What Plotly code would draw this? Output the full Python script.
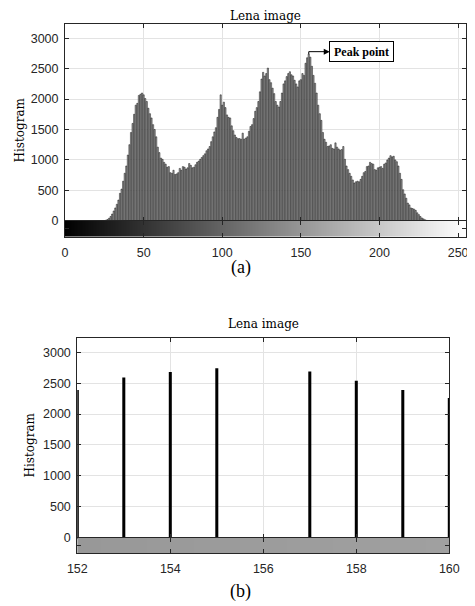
import numpy as np
import plotly.graph_objects as go

# ---------------- data ----------------
gray_levels = list(range(256))

# original histogram (panel a)
hist_counts = (
    [0] * 26 +
    [8, 20, 40, 70, 110, 160, 210, 270, 340, 450,            # 26-35
     520, 650, 780, 900, 1080, 1250, 1450, 1600, 1750, 1900,  # 36-45
     1930, 2060, 2080, 2100, 2070, 2010, 1960, 1850, 1760, 1690,  # 46-55
     1580, 1500, 1380, 1210, 1120, 1030, 1010, 960, 930, 880,     # 56-65
     890, 790, 780, 830, 760, 770, 790, 860, 830, 890,             # 66-75
     880, 850, 870, 940, 910, 870, 880, 920, 960, 980,             # 76-85
     1010, 1040, 1070, 1100, 1150, 1180, 1220, 1300, 1380, 1460,   # 86-95
     1530, 1700, 1830, 2070, 1900, 1950, 1860, 1740, 1700, 1690,   # 96-105
     1560, 1480, 1410, 1370, 1350, 1350, 1340, 1440, 1340, 1360,   # 106-115
     1380, 1470, 1550, 1580, 1680, 1800, 1860, 1960, 2120, 2330,   # 116-125
     2440, 2380, 2420, 2510, 2320, 2270, 2180, 2090, 1960, 1900,   # 126-135
     1870, 1960, 2100, 2250, 2300, 2370, 2420, 2450, 2400, 2380,   # 136-145
     2310, 2250, 2200, 2300, 2320, 2420, 2390, 2590, 2680, 2740,   # 146-155
     2690, 2540, 2390, 2260, 2100, 1900, 1760, 1650, 1450, 1340,   # 156-165
     1290, 1220, 1230, 1250, 1190, 1180, 1280, 1210, 1180, 1160,   # 166-175
     1170, 1220, 1010, 900, 840, 780, 730, 670, 620, 640,          # 176-185
     650, 640, 680, 730, 790, 810, 890, 900, 960, 940,             # 186-195
     930, 840, 830, 870, 880, 890, 860, 930, 950, 1000,            # 196-205
     1030, 1070, 1050, 1060, 1000, 970, 900, 780, 680, 510,        # 206-215
     440, 370, 290, 260, 210, 200, 190, 170, 130, 100,             # 216-225
     70, 45, 30, 15, 5] +                                         # 226-230
    [0] * 25
)

# zoomed histogram around the peak (panel b)
zoom_levels = [152, 153, 154, 155, 156, 157, 158, 159, 160]
zoom_counts = [2390, 2590, 2680, 2740, 0, 2690, 2540, 2390, 2260]

y_ticks = [0, 500, 1000, 1500, 2000, 2500, 3000]
x_ticks_a = [0, 50, 100, 150, 200, 250]
x_ticks_b = [152, 154, 156, 158, 160]
title_text = "Lena image"
ylabel_text = "Histogram"
peak_label = "Peak point"

# ---------------- layout geometry ----------------
# the page body adds an 8px margin, so the figure is drawn 8px smaller
# and all reference pixel positions are shifted by that offset
OFF = 8
W, H = 475 - OFF, 606 - OFF
def px_x(a, b):
    return [(a - OFF) / W, (b - OFF) / W]
def px_y(top, bottom):
    return [(H - (bottom - OFF)) / H, (H - (top - OFF)) / H]
def paper_x(x):
    return (x - OFF) / W
def paper_y(y):
    return 1 - (y - OFF) / H

TICK_FONT = dict(family="Liberation Sans, Arial", size=12.5, color="#262626")
AX_COLOR = "#262626"
GRID = "#e3e3e3"

fig = go.Figure()

# top histogram
fig.add_trace(go.Bar(x=gray_levels, y=hist_counts, xaxis="x", yaxis="y",
                     marker=dict(color="#a2a2a2", line=dict(color="black", width=0.45)),
                     showlegend=False, hoverinfo="x+y"))
# top gray band
fig.add_trace(go.Heatmap(x=gray_levels, y=[0.5], z=[gray_levels], xaxis="x2", yaxis="y2",
                         colorscale=[[0, "black"], [1, "white"]], zmin=0, zmax=255,
                         showscale=False, hoverinfo="skip"))
# bottom zoomed histogram
fig.add_trace(go.Bar(x=zoom_levels, y=zoom_counts, xaxis="x3", yaxis="y3", width=0.065,
                     marker=dict(color="black", line=dict(width=0)),
                     showlegend=False, hoverinfo="x+y"))
# bottom gray band
fig.add_trace(go.Heatmap(x=gray_levels, y=[0.5], z=[gray_levels], xaxis="x4", yaxis="y4",
                         colorscale=[[0, "black"], [1, "white"]], zmin=0, zmax=255,
                         showscale=False, hoverinfo="skip"))

common_ax = dict(showline=True, linecolor=AX_COLOR, linewidth=1, mirror="ticks",
                 ticks="inside", ticklen=4, tickcolor=AX_COLOR, tickwidth=1,
                 zeroline=False, tickfont=TICK_FONT, fixedrange=True, automargin=False)

dom_a_x = px_x(65, 466)
dom_a_main = px_y(24.3, 220.7)
dom_a_band = px_y(220.7, 236.7)
dom_b_x = px_x(77.3, 449.3)
dom_b_main = px_y(337.7, 537.7)
dom_b_band = px_y(537.7, 553.3)

fig.update_layout(
    width=W, height=H,
    margin=dict(l=0, r=0, t=0, b=0, autoexpand=False),
    paper_bgcolor="white", plot_bgcolor="white",
    bargap=0.2,
    xaxis=dict(common_ax, domain=dom_a_x, anchor="y", range=[0, 255],
               tickvals=x_ticks_a, showticklabels=False, showgrid=True, gridcolor=GRID),
    yaxis=dict(common_ax, domain=dom_a_main, anchor="x", range=[0, 3230],
               tickvals=y_ticks, showgrid=True, gridcolor=GRID, ticklabelstandoff=3),
    xaxis2=dict(common_ax, domain=dom_a_x, anchor="y2", range=[0, 255],
                tickvals=x_ticks_a, showgrid=False, ticklabelstandoff=4),
    yaxis2=dict(common_ax, domain=dom_a_band, anchor="x2", range=[0, 1],
                tickvals=[0.5], ticktext=[""], showgrid=False),
    xaxis3=dict(common_ax, domain=dom_b_x, anchor="y3", range=[152, 160],
                tickvals=x_ticks_b, showticklabels=False, showgrid=True, gridcolor=GRID),
    yaxis3=dict(common_ax, domain=dom_b_main, anchor="x3", range=[0, 3235],
                tickvals=y_ticks, showgrid=True, gridcolor=GRID, ticklabelstandoff=3),
    xaxis4=dict(common_ax, domain=dom_b_x, anchor="y4", range=[152, 160],
                tickvals=x_ticks_b, showgrid=False, ticklabelstandoff=4),
    yaxis4=dict(common_ax, domain=dom_b_band, anchor="x4", range=[0, 1],
                tickvals=[0.5], ticktext=[""], showgrid=False),
)

SERIF = "DejaVu Serif, serif"
TIMES = "Liberation Serif, Times New Roman, serif"

# top title sits against the page top: anchor its box to the figure edge
fig.add_annotation(xref="paper", yref="paper", showarrow=False, text=title_text,
                   x=paper_x(265.5), y=1.0, xanchor="center", yanchor="top", borderpad=0,
                   font=dict(family=SERIF, size=12, color="black"))

# other titles, y labels, captions
annos = [
    dict(text=title_text, x=paper_x(263.3), y=paper_y(324), font=dict(family=SERIF, size=12, color="black")),
    dict(text=ylabel_text, x=paper_x(19), y=paper_y(130.5), textangle=-90,
         font=dict(family=SERIF, size=12, color="black")),
    dict(text=ylabel_text, x=paper_x(29), y=paper_y(445.5), textangle=-90,
         font=dict(family=SERIF, size=12, color="black")),
    dict(text="(a)", x=paper_x(241), y=paper_y(268), font=dict(family=TIMES, size=18, color="black")),
    dict(text="(b)", x=paper_x(240), y=paper_y(591), font=dict(family=TIMES, size=18, color="black")),
]
for a in annos:
    fig.add_annotation(xref="paper", yref="paper", showarrow=False,
                       xanchor="center", yanchor="middle", **a)

# peak annotation
counts_arr = np.array(hist_counts)
peak_idx = int(np.argmax(counts_arr))
peak_val = int(counts_arr[peak_idx])
arrow_level = peak_val + 40
fig.add_shape(type="line", xref="x", yref="y", x0=gray_levels[peak_idx], x1=gray_levels[peak_idx],
              y0=peak_val, y1=arrow_level, line=dict(color="black", width=1))
fig.add_annotation(xref="x", yref="y", x=gray_levels[peak_idx], y=arrow_level,
                   text="<b>" + peak_label + "</b>", showarrow=True,
                   ax=53, ay=0, arrowside="start", startarrowhead=2, arrowhead=2,
                   arrowwidth=1, arrowcolor="black", startarrowsize=1.2,
                   width=59, height=15,
                   bgcolor="white", bordercolor="black", borderwidth=1, borderpad=2,
                   font=dict(family=TIMES, size=12, color="black"))

fig.write_html("out.html")
